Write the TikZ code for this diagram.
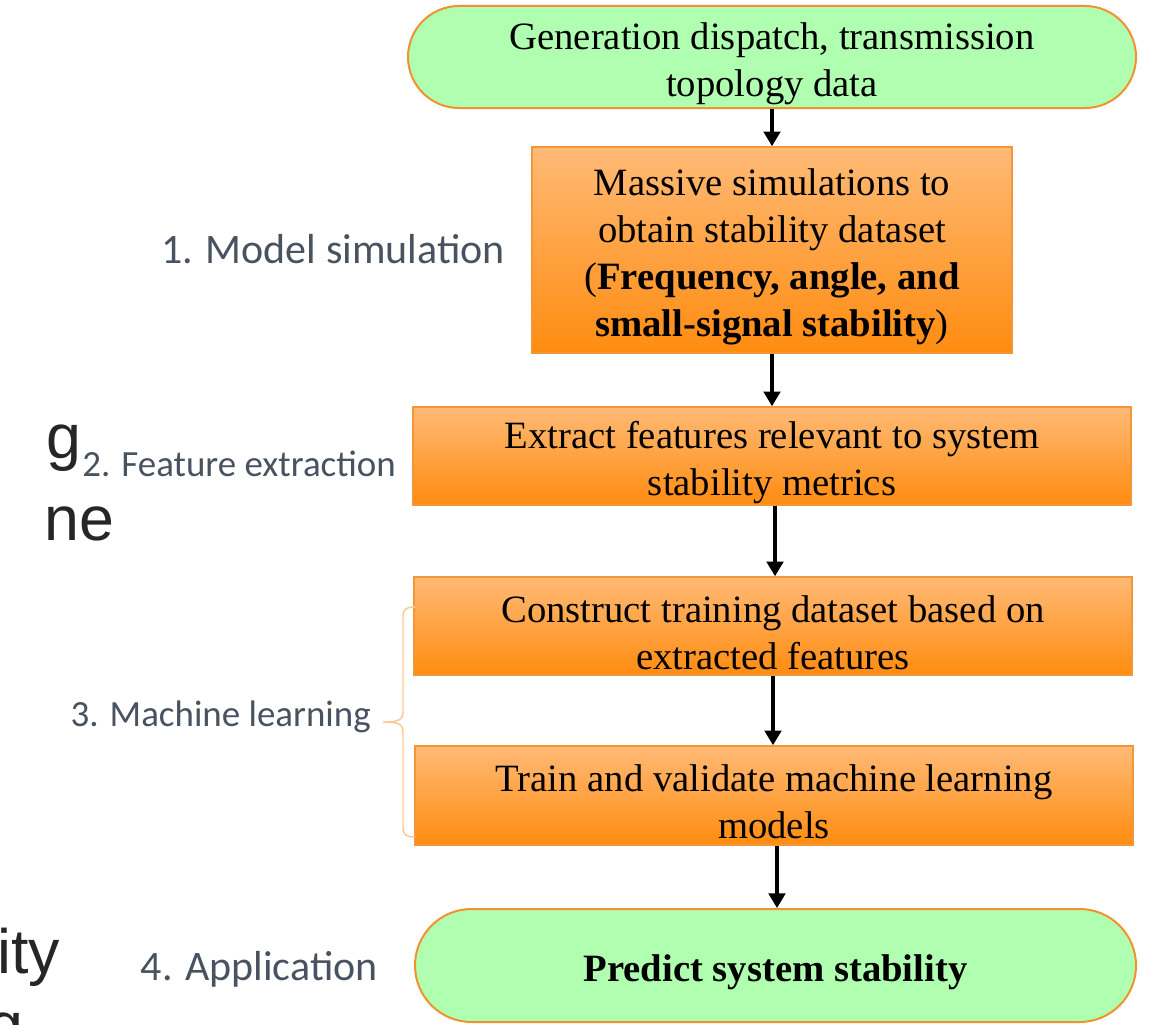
\documentclass[tikz,border=0pt]{standalone}
\usepackage{fontspec}
\setmainfont{Liberation Serif}
\newfontfamily\labfont{Carlito}
\newfontfamily\bigfont{Liberation Sans}
\usetikzlibrary{shapes.misc,arrows.meta}
\definecolor{termgreen}{RGB}{176,255,176}
\definecolor{termborder}{RGB}{242,146,46}
\definecolor{ortop}{RGB}{255,186,118}
\definecolor{orbot}{RGB}{255,140,16}
\definecolor{orborder}{RGB}{242,150,56}
\definecolor{labgray}{RGB}{72,82,96}
\definecolor{bracec}{RGB}{255,200,145}
\definecolor{bigc}{RGB}{38,38,38}
\tikzset{
  boxtext/.style={font=\fontsize{29}{35.25}\selectfont, align=center, text=black, inner sep=0pt},
  terminal/.style={rounded rectangle, draw=termborder, line width=1.5pt, fill=termgreen, inner sep=0pt},
  procbox/.style={rectangle, draw=orborder, line width=1.2pt, top color=ortop, bottom color=orbot, inner sep=0pt},
  inside/.style={label={[boxtext,yshift=-4.8pt]center:{#1}}},
  steplabel/.style={font=\labfont\fontsize{31.5}{38}\selectfont, text=labgray, inner sep=0pt},
  smalllabel/.style={font=\labfont\fontsize{27.7}{34}\selectfont, text=labgray, inner sep=0pt},
  bigtxt/.style={font=\bigfont\fontsize{47}{56}\selectfont, text=bigc, inner sep=0pt},
  arr/.style={line width=2.3pt, -{Triangle[length=11pt,width=12.5pt]}},
  bracel/.style={draw=bracec, line width=1.1pt}
}
\begin{document}
\begin{tikzpicture}[x=0.75pt,y=-0.75pt]
\useasboundingbox (0,0) rectangle (1151,1024);
% background fragments of large text
\node[bigtxt, anchor=base east] (fa) at (82,458) {g};
\node[bigtxt, anchor=base west] (fb) at (44,540) {ne};
\node[bigtxt, anchor=base west] (fc) at (-3,973) {ity};
\node[bigtxt, anchor=base west] (fd) at (-12,1046) {g};
% flow nodes
\node[terminal, minimum width=546pt, minimum height=76.5pt,
  inside={Generation dispatch, transmission\\topology data}] (t1) at (772,57) {};
\node[procbox, minimum width=360pt, minimum height=154.5pt,
  inside={Massive simulations to\\obtain stability dataset\\(\textbf{Frequency, angle, and}\\\textbf{small-signal stability})}] (b2) at (772,250) {};
\node[procbox, minimum width=538.5pt, minimum height=73.5pt,
  inside={Extract features relevant to system\\stability metrics}] (b3) at (772,456) {};
\node[procbox, minimum width=538.5pt, minimum height=73.5pt,
  inside={Construct training dataset based on\\extracted features}] (b4) at (773,626) {};
\node[procbox, minimum width=538.5pt, minimum height=74.25pt,
  inside={Train and validate machine learning\\models}] (b5) at (774,795.5) {};
\node[terminal, minimum width=540.75pt, minimum height=84.75pt,
  inside={\textbf{Predict system stability}}] (t6) at (775.5,965.5) {};
% arrows
\draw[arr] (t1.south) -- (t1.south |- b2.north);
\draw[arr] (b2.south) -- (b2.south |- b3.north);
\draw[arr] (b3.south) ++(3,0) coordinate (a3s) -- (a3s |- b4.north);
\draw[arr] (b4.south) -- (b4.south |- b5.north);
\draw[arr] (b5.south) ++(3,0) coordinate (a5s) -- (a5s |- t6.north);
% labels
\node[steplabel, anchor=east] (l1) at (505,249) {1. Model simulation};
\node[smalllabel, anchor=east] (l2) at (396,464) {2. Feature extraction};
\node[smalllabel, anchor=east] (l3) at (371,717) {3. Machine learning};
\node[steplabel, anchor=east] (l4) at (378,969) {4. Application};
% brace
\coordinate (btop) at (415,607);
\coordinate (btip) at (383,722);
\coordinate (bbot) at (415,837);
\draw[bracel] (btop) .. controls (406,607) and (403,609) .. (403,617) -- (403,712)
  .. controls (403,720) and (398,722) .. (btip)
  .. controls (398,722) and (403,724) .. (403,732) -- (403,827)
  .. controls (403,835) and (406,837) .. (bbot);
\end{tikzpicture}
\end{document}
